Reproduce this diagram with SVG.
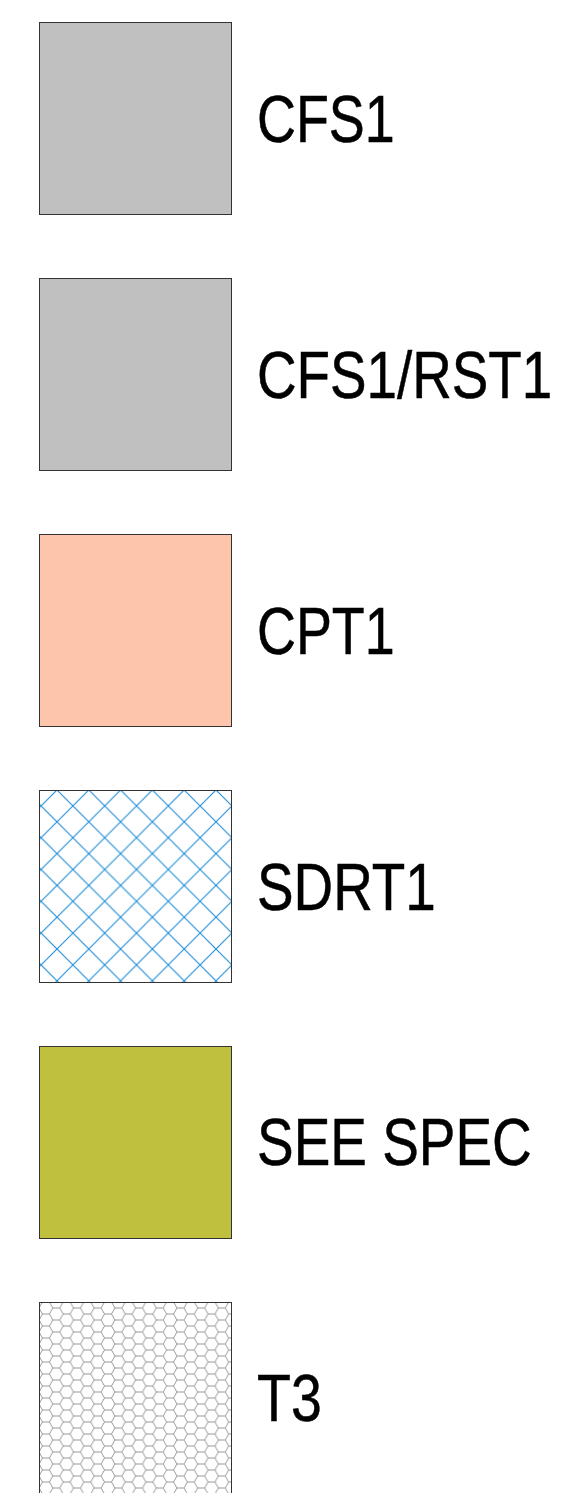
<svg xmlns="http://www.w3.org/2000/svg" width="566" height="1493" viewBox="0 0 566 1493">
  <style>
    .box { stroke: #333; stroke-width: 1; }
    .lbl { font-family: "Liberation Sans", Arial, sans-serif; font-size: 67px; fill: #000; stroke: #000; stroke-width: 0.5; }
  </style>
  <defs>
    <pattern id="cross" patternUnits="userSpaceOnUse" x="57" y="790" width="31.8" height="31.8">
      <path d="M0,0 L31.8,31.8 M31.8,0 L0,31.8" stroke="#1f8dd6" stroke-width="1.1" fill="none"/>
    </pattern>
    <pattern id="hex" patternUnits="userSpaceOnUse" x="39" y="1302" width="20.7" height="12">
      <path d="M3.45,0 L10.35,0 L13.8,6 L10.35,12 L3.45,12 L0,6 Z M13.8,6 L20.7,6" stroke="#888" stroke-width="0.85" fill="none"/>
    </pattern>
  </defs>
  <g id="n1">
    <rect class="box" x="39.5" y="22.5" width="192" height="192" fill="#c0c0c0"/>
    <text class="lbl" transform="translate(257,142) scale(0.82,1)" x="0" y="0" textLength="168" lengthAdjust="spacingAndGlyphs">CFS1</text>
  </g>
  <g id="n2">
    <rect class="box" x="39.5" y="278.5" width="192" height="192" fill="#c0c0c0"/>
    <text class="lbl" transform="translate(257,398) scale(0.82,1)" x="0" y="0" textLength="360" lengthAdjust="spacingAndGlyphs">CFS1/RST1</text>
  </g>
  <g id="n3">
    <rect class="box" x="39.5" y="534.5" width="192" height="192" fill="#fdc6ac"/>
    <text class="lbl" transform="translate(257,654) scale(0.82,1)" x="0" y="0" textLength="168" lengthAdjust="spacingAndGlyphs">CPT1</text>
  </g>
  <g id="n4">
    <rect x="39.5" y="790.5" width="192" height="192" fill="#fff"/>
    <rect x="39.5" y="790.5" width="192" height="192" fill="url(#cross)"/>
    <rect class="box" x="39.5" y="790.5" width="192" height="192" fill="none"/>
    <text class="lbl" transform="translate(257,910) scale(0.82,1)" x="0" y="0" textLength="218" lengthAdjust="spacingAndGlyphs">SDRT1</text>
  </g>
  <g id="n5">
    <rect class="box" x="39.5" y="1046.5" width="192" height="192" fill="#bfc03e"/>
    <text class="lbl" transform="translate(257,1165) scale(0.82,1)" x="0" y="0" textLength="335" lengthAdjust="spacingAndGlyphs">SEE SPEC</text>
  </g>
  <g id="n6">
    <rect x="39.5" y="1302.5" width="192" height="192" fill="#fff"/>
    <rect x="39.5" y="1302.5" width="192" height="192" fill="url(#hex)"/>
    <rect class="box" x="39.5" y="1302.5" width="192" height="192" fill="none"/>
    <text class="lbl" transform="translate(257,1421) scale(0.82,1)" x="0" y="0" textLength="79" lengthAdjust="spacingAndGlyphs">T3</text>
  </g>
  <g id="connectors"></g>
</svg>
